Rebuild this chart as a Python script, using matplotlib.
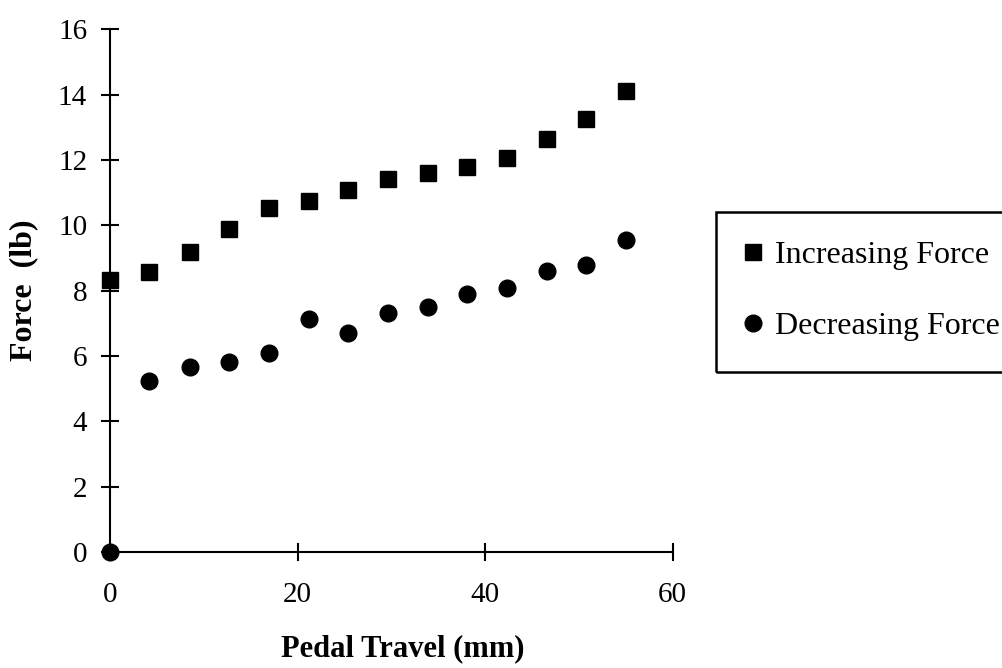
import numpy as np
import matplotlib.pyplot as plt
from matplotlib.patches import Rectangle

# pedal travel (mm) and force (lb)
travel = [0, 4.2, 8.5, 12.7, 16.9, 21.2, 25.4, 29.6, 33.9, 38.1, 42.3, 46.6, 50.8, 55.0]
force_inc = [8.33, 8.58, 9.19, 9.88, 10.52, 10.75, 11.08, 11.43, 11.61, 11.8, 12.05, 12.64, 13.24, 14.11]
force_dec = [0.0, 5.23, 5.67, 5.83, 6.1, 7.13, 6.69, 7.31, 7.49, 7.91, 8.09, 8.6, 8.79, 9.55]
labels = ['Increasing Force', 'Decreasing Force']

plt.rcParams['font.family'] = ['Liberation Serif', 'DejaVu Serif']

fig = plt.figure(figsize=(10.02, 6.68), dpi=100)
ax = fig.add_axes([0.1098, 0.1737, 0.5616, 0.7824])

ax.plot(travel, force_inc, 's', color='black', markersize=11.5, label=labels[0],
        clip_on=False, zorder=5)
ax.plot(travel, force_dec, 'o', color='black', markersize=12, label=labels[1],
        clip_on=False, zorder=5)

ax.set_xlim(0, 60)
ax.set_ylim(0, 16)
ax.set_xticks([0, 20, 40, 60])
ax.set_yticks(np.arange(0, 17, 2))
for side in ['top', 'right']:
    ax.spines[side].set_visible(False)
for side in ['left', 'bottom']:
    ax.spines[side].set_linewidth(1.5)
ax.tick_params(direction='inout', length=13, width=1.5, labelsize=21)
ax.tick_params(axis='y', pad=10)
ax.tick_params(axis='x', pad=15)

ax.set_xlabel('Pedal Travel (mm)', fontsize=22, fontweight='bold', labelpad=19)
ax.xaxis.label.set_x(0.52)
ax.set_ylabel('Force  (lb)', fontsize=23, fontweight='bold', labelpad=14)

# legend box runs off the right edge of the figure
fig.patches.append(Rectangle((716 / 1002, (668 - 372) / 668), 0.3, 160 / 668,
                             transform=fig.transFigure, fill=False,
                             edgecolor='black', linewidth=1.8, clip_on=False))
leg = ax.legend(loc='center left', bbox_to_anchor=(743 / 1002, (668 - 291) / 668),
                bbox_transform=fig.transFigure, frameon=False, fontsize=23,
                markerscale=1.0, handlelength=0.6, handletextpad=0.4,
                labelspacing=1.3, borderpad=0, borderaxespad=0)

fig.savefig('out.png', dpi=100)
